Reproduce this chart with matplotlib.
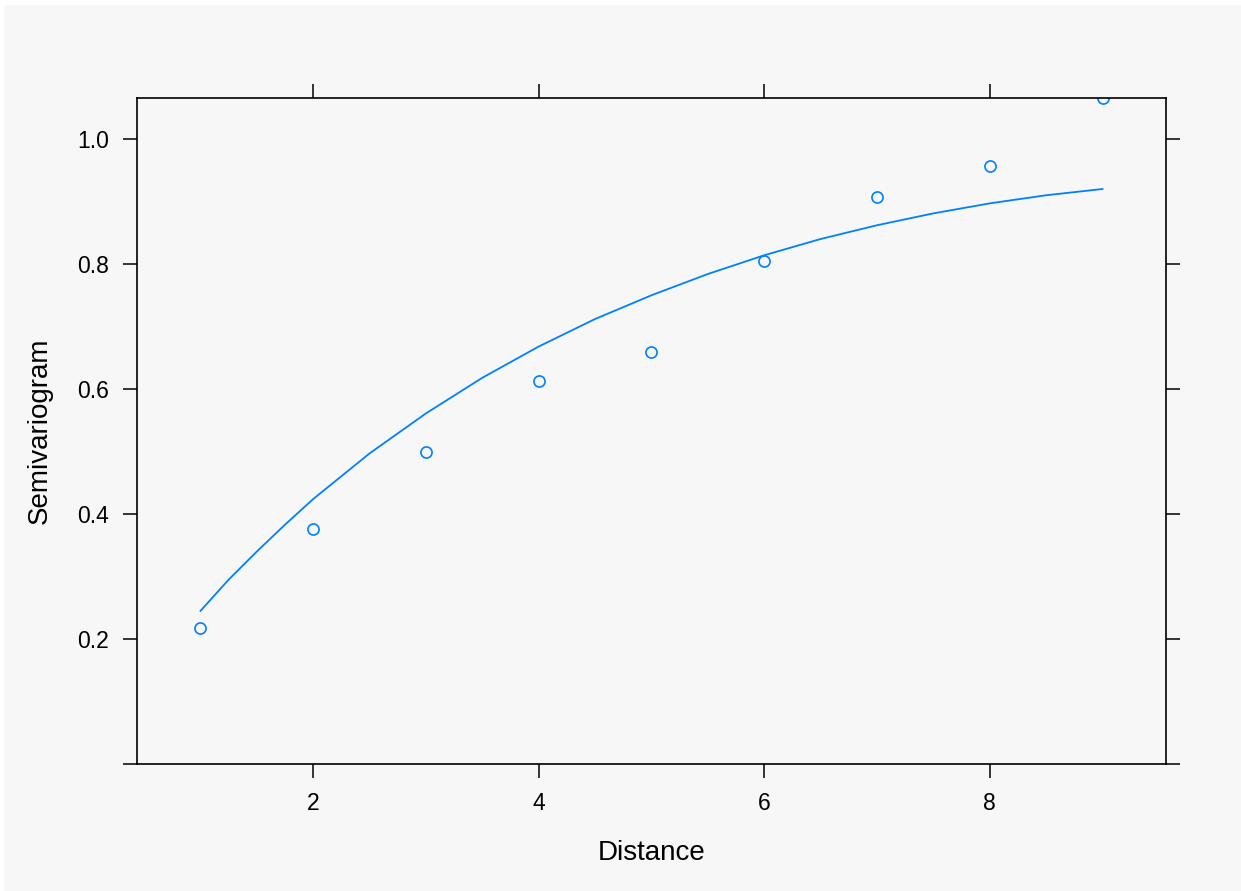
import matplotlib
matplotlib.use("Agg")
import matplotlib.pyplot as plt
from matplotlib.patches import Rectangle

plt.rcParams['font.family'] = ['Liberation Sans', 'DejaVu Sans']

# sample semivariogram
distance = [1, 2, 3, 4, 5, 6, 7, 8, 9]
semivar = [0.218, 0.376, 0.499, 0.613, 0.659, 0.805, 0.907, 0.957, 1.0656]

# fitted model curve
fit_dist = [1.0, 1.25, 1.5, 1.75, 2.0, 2.5, 3.0, 3.5, 4.0, 4.5, 5.0,
            5.5, 6.0, 6.5, 7.0, 7.5, 8.0, 8.5, 9.0]
fit_val = [0.245, 0.295, 0.340, 0.383, 0.424, 0.497, 0.561, 0.618, 0.668, 0.712, 0.750,
           0.784, 0.814, 0.840, 0.862, 0.881, 0.897, 0.910, 0.920]

xticks = [2, 4, 6, 8]
yticks = [0.0, 0.2, 0.4, 0.6, 0.8, 1.0]
ytick_labels = ['', '0.2', '0.4', '0.6', '0.8', '1.0']

blue = '#0080ff'
bg = '#f7f7f7'

fig = plt.figure(figsize=(12.41, 8.91), dpi=100, facecolor=bg)
# thin white margin at top and left
fig.patches.append(Rectangle((0, 1 - 5 / 891), 1, 5 / 891, transform=fig.transFigure,
                             facecolor='white', edgecolor='none', zorder=-1))
fig.patches.append(Rectangle((0, 0), 4 / 1241, 1, transform=fig.transFigure,
                             facecolor='white', edgecolor='none', zorder=-1))

ax = fig.add_axes([137 / 1241, 1 - 764 / 891, (1166 - 137) / 1241, (764 - 98) / 891])
ax.set_facecolor(bg)

ax.plot(fit_dist, fit_val, color=blue, lw=1.3)
ax.plot(distance, semivar, 'o', ms=8, mfc='none', mec=blue, mew=1.2)

ax.set_xlim(0.437, 9.563)
ax.set_ylim(0, 1.0656)

ax.set_xticks(xticks)
ax.set_yticks(yticks)
ax.set_yticklabels(ytick_labels)
ax.tick_params(axis='both', direction='out', length=10, width=1.1, pad=10,
               labelsize=16.5, top=True, right=True)

for s in ax.spines.values():
    s.set_linewidth(1.2)

ax.set_xlabel('Distance', fontsize=20, labelpad=18)
ax.set_ylabel('Semivariogram', fontsize=20, labelpad=18)

fig.savefig('out.png', dpi=100, facecolor=bg)
